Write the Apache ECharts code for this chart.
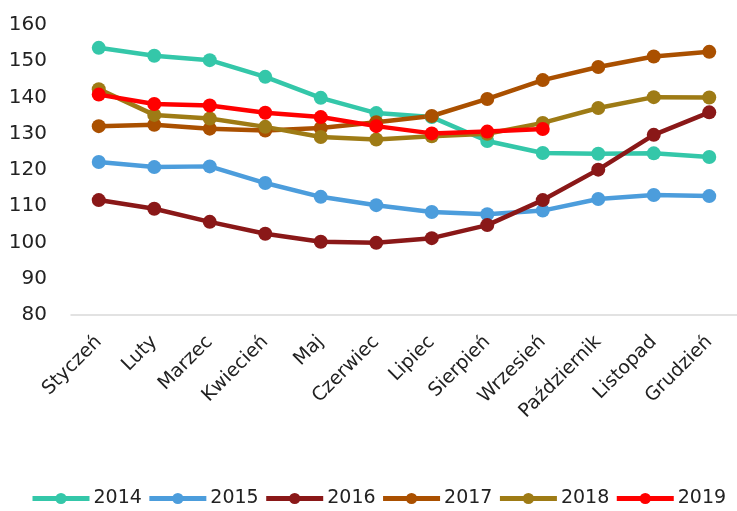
<!DOCTYPE html>
<html><head><meta charset="utf-8">
<script src="https://cdn.jsdelivr.net/npm/echarts@6/dist/echarts.min.js"></script>
<style>html,body{margin:0;padding:0;background:#fff}#c{width:737px;height:511px}</style>
</head><body><div id="c"></div>
<script>
const categories = ['Styczeń','Luty','Marzec','Kwiecień','Maj','Czerwiec','Lipiec','Sierpień','Wrzesień','Październik','Listopad','Grudzień'];
const s2014 = [153.7,151.5,150.3,145.7,139.9,135.7,134.6,128.0,124.7,124.5,124.6,123.6];
const s2015 = [122.2,120.8,121.0,116.4,112.6,110.3,108.4,107.8,108.8,112.0,113.1,112.8];
const s2016 = [111.7,109.3,105.7,102.4,100.2,99.9,101.2,104.8,111.7,120.1,129.7,135.9];
const s2017 = [132.1,132.5,131.4,130.9,131.6,133.2,134.9,139.6,144.8,148.4,151.3,152.6];
const s2018 = [142.3,135.2,134.2,131.9,129.1,128.4,129.3,130.0,133.0,137.1,140.1,140.0];
const s2019 = [140.8,138.2,137.8,135.8,134.6,132.1,130.1,130.6,131.3];
const names = ['2014','2015','2016','2017','2018','2019'];
const colors = ['#34C7A9','#4C9DDC','#8A1818','#AA5000','#9E7B15','#FF0000'];
const yTicks = {min:80, max:160, interval:10};

const font = '"DejaVu Sans", sans-serif';
const data = [s2014,s2015,s2016,s2017,s2018,s2019];
const chart = echarts.init(document.getElementById('c'));
chart.setOption({
  animation:false,
  color: colors,
  textStyle:{fontFamily:font},
  grid:{left:71,right:0,top:25,bottom:196,containLabel:false},
  legend:{bottom:3,left:30,padding:0,itemWidth:57,itemHeight:14,itemGap:5,
    lineStyle:{width:5},
    textStyle:{fontSize:19,color:'#222',fontFamily:font,padding:[0,0,0,-1]},
    data:names},
  xAxis:{type:'category',data:categories,boundaryGap:true,
    axisLine:{lineStyle:{color:'#d9d9d9',width:1.5}},axisTick:{show:false},
    axisLabel:{rotate:45,fontSize:19,color:'#222',margin:24,interval:0,fontFamily:font}},
  yAxis:{type:'value',min:yTicks.min,max:yTicks.max,interval:yTicks.interval,
    splitLine:{show:false},axisLine:{show:false},axisTick:{show:false},
    axisLabel:{fontSize:20,color:'#222',margin:24,fontFamily:font}},
  series: names.map((n,i)=>({name:n,type:'line',data:data[i],symbol:'circle',symbolSize:14,
    lineStyle:{width:4.5,color:colors[i]},itemStyle:{color:colors[i]}}))
});
</script></body></html>
